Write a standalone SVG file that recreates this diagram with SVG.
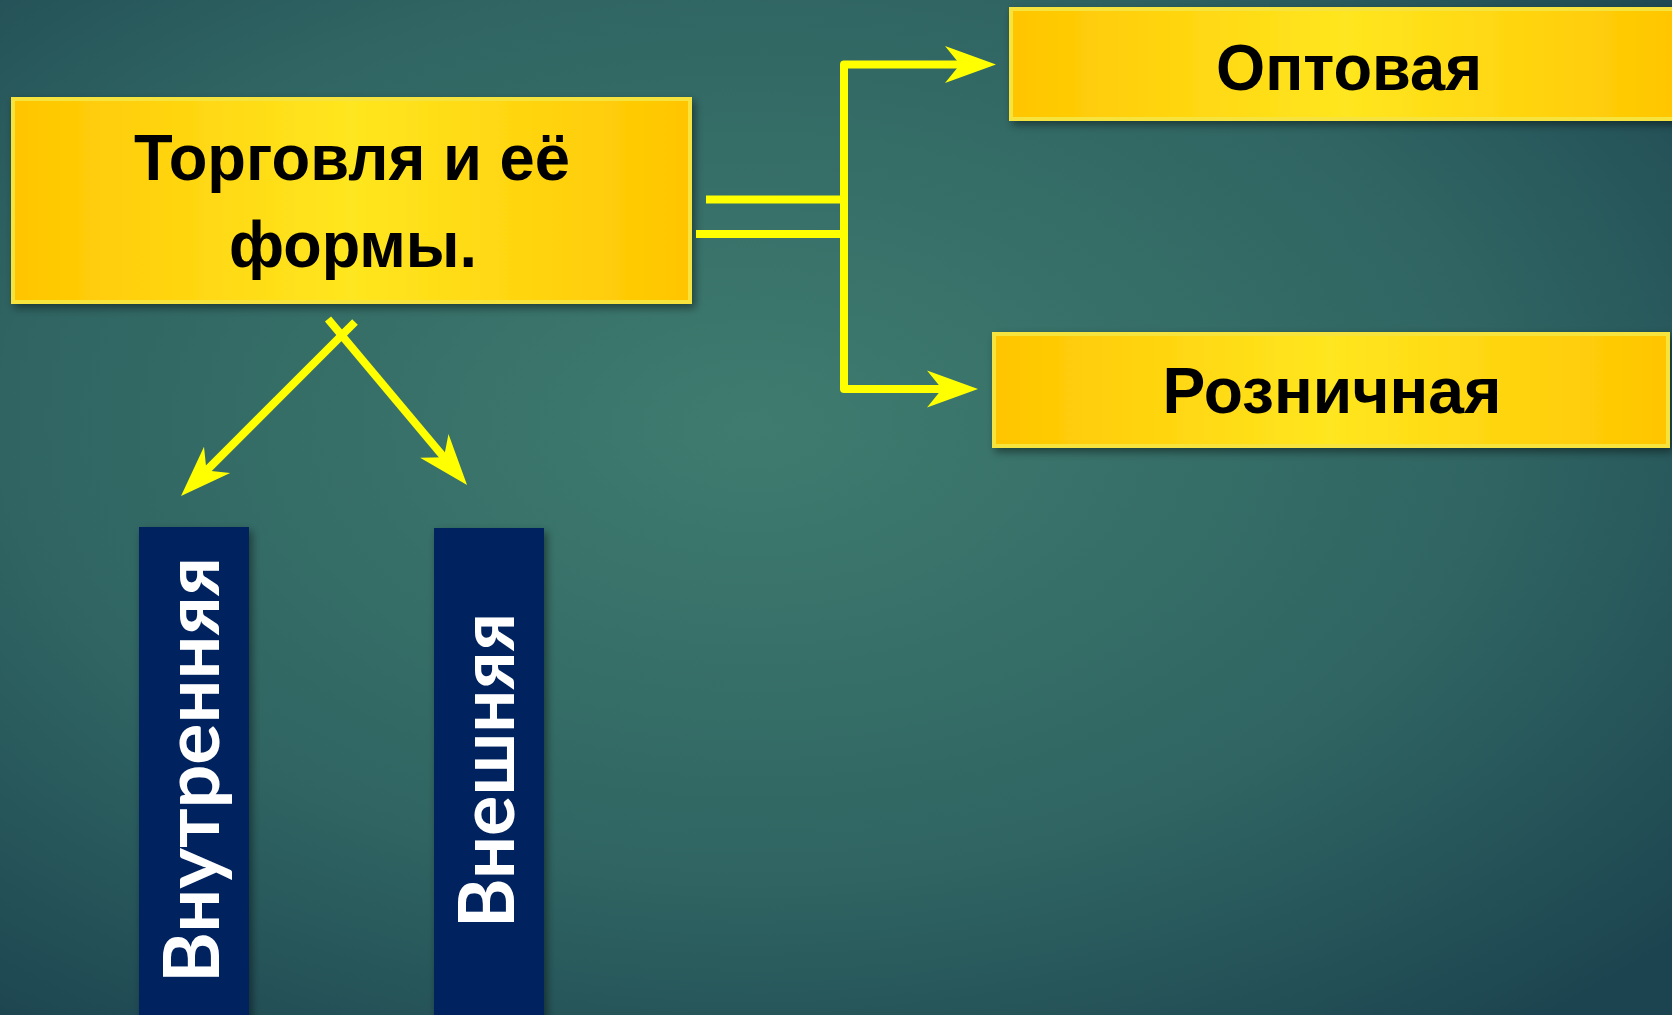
<svg xmlns="http://www.w3.org/2000/svg" width="1672" height="1015" viewBox="0 0 1672 1015">
  <defs>
    <radialGradient id="bg" cx="0.45" cy="0.42" r="0.75">
      <stop offset="0" stop-color="#3f7c6f"/>
      <stop offset="0.6" stop-color="#2f6462"/>
      <stop offset="1" stop-color="#1c4450"/>
    </radialGradient>
    <linearGradient id="yel" x1="0" y1="0" x2="1" y2="0">
      <stop offset="0" stop-color="#FFC500"/>
      <stop offset="0.5" stop-color="#FFE620"/>
      <stop offset="1" stop-color="#FFC500"/>
    </linearGradient>
    <filter id="sh" x="-10%" y="-20%" width="120%" height="140%">
      <feDropShadow dx="3" dy="4" stdDeviation="4" flood-color="#000" flood-opacity="0.45"/>
    </filter>
    <marker id="ah" markerUnits="userSpaceOnUse" markerWidth="60" markerHeight="40" refX="0" refY="0" orient="auto" overflow="visible">
      <path d="M25,0 L-26,-18.5 L-11,0 L-26,18.5 Z" fill="#FFFF00"/>
    </marker>
    <style>
      .ybox { fill: url(#yel); stroke: #F7E33C; stroke-width: 4; filter: url(#sh); }
      .bbox { fill: #02205F; filter: url(#sh); }
      .yt { font-family: "Liberation Sans", Arial, sans-serif; font-weight: bold; font-size: 64px; fill: #000; text-anchor: middle; }
      .wt { font-family: Lato, "Open Sans", sans-serif; font-weight: bold; font-size: 76px; fill: #fff; }
      .con { fill: none; stroke: #FFFF00; stroke-width: 8; stroke-linejoin: round; }
    </style>
  </defs>
  <rect x="0" y="0" width="1672" height="1015" fill="url(#bg)"/>

  <g id="node-main">
    <rect class="ybox" x="13" y="99" width="677" height="203"/>
    <text class="yt" x="352" y="180" textLength="436" lengthAdjust="spacingAndGlyphs">Торговля и её</text>
    <text class="yt" x="353" y="267" textLength="248" lengthAdjust="spacingAndGlyphs">формы.</text>
  </g>

  <g id="node-optovaya">
    <rect class="ybox" x="1011" y="9" width="670" height="110"/>
    <text class="yt" x="1349" y="90" textLength="266" lengthAdjust="spacingAndGlyphs">Оптовая</text>
  </g>

  <g id="node-roznichnaya">
    <rect class="ybox" x="994" y="334" width="674" height="112"/>
    <text class="yt" x="1332" y="413" textLength="339" lengthAdjust="spacingAndGlyphs">Розничная</text>
  </g>

  <g id="node-vnutrennyaya">
    <rect class="bbox" x="139" y="527" width="110" height="500"/>
    <text class="wt" transform="translate(219,983) rotate(-90)" textLength="426" lengthAdjust="spacingAndGlyphs">Внутренняя</text>
  </g>

  <g id="node-vneshnyaya">
    <rect class="bbox" x="434" y="528" width="110" height="500"/>
    <text class="wt" transform="translate(514,928) rotate(-90)" textLength="315" lengthAdjust="spacingAndGlyphs">Внешняя</text>
  </g>

  <g id="connectors">
    <path class="con" d="M706,199.5 H844"/>
    <path class="con" d="M696,234 H844"/>
    <path class="con" d="M844,230 V64.5 H971" marker-end="url(#ah)"/>
    <path class="con" d="M844,230 V389 H953" marker-end="url(#ah)"/>
    <path class="con" d="M355,322 L198.7,478.3" marker-end="url(#ah)"/>
    <path class="con" d="M328,319 L451,465.8" marker-end="url(#ah)"/>
  </g>
</svg>
